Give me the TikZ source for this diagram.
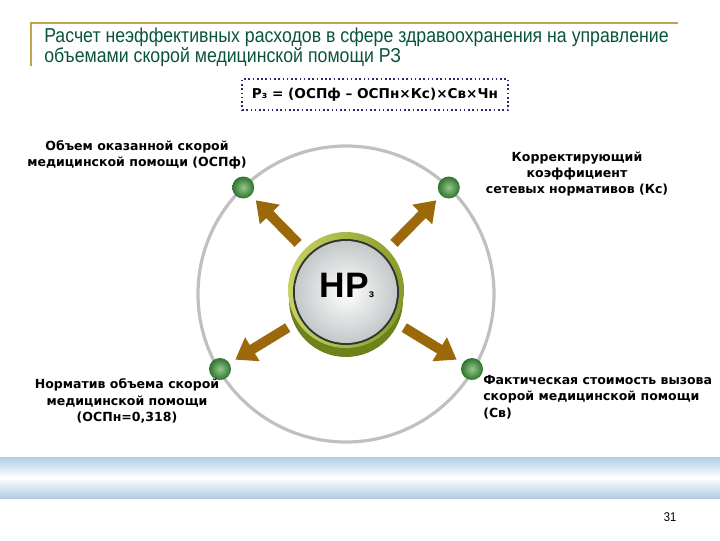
\documentclass[tikz,border=0pt]{standalone}
\usepackage{fontspec}
\setmainfont{DejaVu Sans}
\newfontfamily\titlefont[FakeStretch=0.88]{Liberation Sans}
\newfontfamily\hubfont{Liberation Sans}
\usetikzlibrary{arrows.meta}
\definecolor{gold}{RGB}{192,165,75}
\definecolor{titlegreen}{RGB}{10,85,55}
\definecolor{navy}{RGB}{40,40,120}
\definecolor{arrowbrown}{RGB}{155,105,10}
\definecolor{ringgrey}{RGB}{192,192,192}
\definecolor{bandblue}{RGB}{178,204,228}
\definecolor{dotlight}{RGB}{150,200,140}
\definecolor{dotdark}{RGB}{45,115,45}
\definecolor{rimlight}{RGB}{200,210,100}
\definecolor{rimdark}{RGB}{135,155,40}
\definecolor{cyldark}{RGB}{110,130,28}
\definecolor{facegrey}{RGB}{195,200,200}
\begin{document}
\begin{tikzpicture}[x=0.75pt,y=-0.75pt,
  lbl/.style={font=\bfseries\fontsize{9.4}{12.3}\selectfont, align=center, inner sep=0},
  dot/.style={circle, minimum size=16.5pt, inner sep=0, shading=radial, inner color=dotlight, outer color=dotdark},
  bigarrow/.style={draw=arrowbrown, line width=7.5pt, -{Triangle[length=15pt,width=20pt]}, shorten <=7.5pt, shorten >=5pt}]
\useasboundingbox (0,0) rectangle (720,540);
% title frame
\draw[gold, line width=1.5pt] (31,66) -- (31,23) -- (678,23);
\node[anchor=west, inner sep=0, align=left, text=titlegreen,
  font=\titlefont\fontsize{15.1}{15}\selectfont] (title) at (44,47)
  {Расчет неэффективных расходов в сфере здравоохранения на управление\\объемами скорой медицинской помощи РЗ};
% formula
\node[draw=navy, dotted, line width=1.2pt, minimum width=199.5pt, minimum height=23pt,
  font=\bfseries\fontsize{10.2}{12}\selectfont] (formula) at (375,94.5)
  {Р{\fontsize{7}{7}\selectfont з} = (ОСПф – ОСПн×Кс)×Св×Чн};
% big ring
\draw[ringgrey, line width=2.4pt] (346,294) circle [radius=148];
% hub
\node[circle, minimum size=87pt, inner sep=0] (hub) at (346,292) {};
\fill[cyldark] (346,300) circle [radius=57];
\shade[left color=rimlight, right color=rimdark] (346,290) circle [radius=58];
\fill[black!80] (346,292) circle [radius=53];
\shade[inner color=white, outer color=facegrey] (346,292) circle [radius=51];
\node[inner sep=0, anchor=base, font=\hubfont\bfseries\fontsize{26.5}{27}\selectfont] (hubtext) at (347,297)
  {НР{\fontsize{8}{8}\selectfont з}};
% dots
\node[dot] (dTL) at (243.2,187.5) {};
\node[dot] (dTR) at (448.8,187.5) {};
\node[dot] (dBL) at (220,369) {};
\node[dot] (dBR) at (472,369) {};
% arrows
\draw[bigarrow] (hub) -- (dTL);
\draw[bigarrow] (hub) -- (dTR);
\draw[bigarrow] (hub) -- (dBL);
\draw[bigarrow] (hub) -- (dBR);
% labels
\node[lbl] (lTL) at (137,155) {Объем оказанной скорой\\медицинской помощи (ОСПф)};
\node[lbl] (lTR) at (577,174) {Корректирующий\\коэффициент\\сетевых нормативов (Кс)};
\node[lbl] (lBL) at (127,401) {Норматив объема скорой\\медицинской помощи\\(ОСПн=0,318)};
\node[lbl, anchor=west, align=left] (lBR) at (483,397) {Фактическая стоимость вызова\\скорой медицинской помощи\\(Св)};
% bottom band
\shade[top color=bandblue, bottom color=bandblue, middle color=white] (0,457) rectangle (720,498);
\node[inner sep=0, font=\titlefont\fontsize{9.5}{10}\selectfont] (pnum) at (670,517) {31};
\end{tikzpicture}
\end{document}
